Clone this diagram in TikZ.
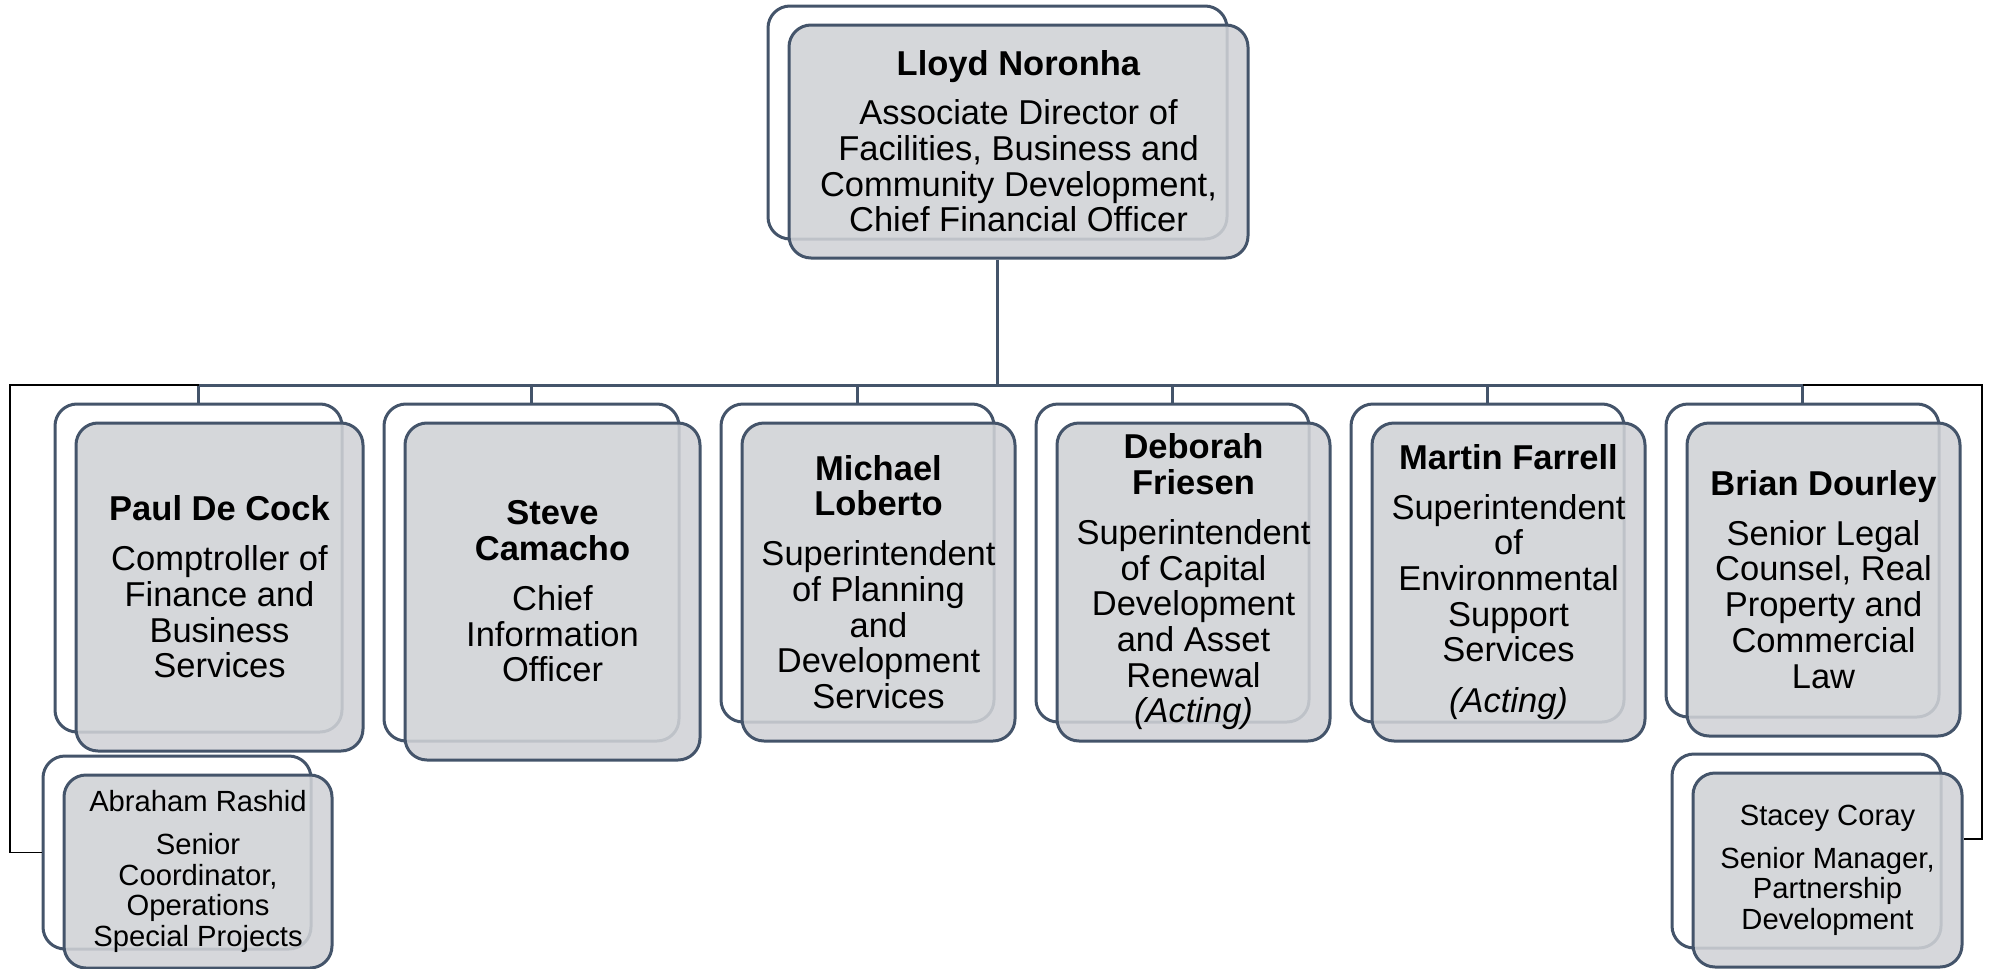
\documentclass[tikz,border=0pt]{standalone}
\usepackage{fontspec}
\setmainfont{Liberation Sans}
\definecolor{slate}{RGB}{68,84,106}
\definecolor{boxgray}{RGB}{208,210,214}
\tikzset{
    cardback/.style={draw=slate, fill=white, line width=1.5pt, rounded corners=11pt, inner sep=0pt},
    card/.style={draw=slate, fill=boxgray, fill opacity=0.88, text opacity=1, line width=1.5pt,
        rounded corners=11pt, inner sep=0pt, align=center,
        font=\fontsize{17.25}{17.85}\selectfont},
    smallcard/.style={card, font=\fontsize{14.6}{15.25}\selectfont},
    link/.style={draw=slate, line width=1.5pt},
    sidelink/.style={draw=black, line width=0.9pt}
}
\begin{document}
\begin{tikzpicture}[
    x=0.5pt, y=-0.5pt
]
    \useasboundingbox (0,0) rectangle (1992,969);

    % Rails
    \coordinate (bus) at (0,385);
    \coordinate (leftrail) at (10,385);
    \coordinate (rightrail) at (1982,385);

    % Back cards
    \node[cardback, minimum width=229.5pt, minimum height=116.5pt] (topback) at (997.5,122.5) {};
    \node[cardback, minimum width=143.5pt, minimum height=164pt] (paulback) at (198.5,568) {};
    \node[cardback, minimum width=147.5pt, minimum height=168.5pt] (steveback) at (531.5,572.5) {};
    \node[cardback, minimum width=136.5pt, minimum height=159pt] (michaelback) at (857.5,563) {};
    \node[cardback, minimum width=136.5pt, minimum height=159pt] (deborahback) at (1172.5,563) {};
    \node[cardback, minimum width=136.5pt, minimum height=159pt] (martinback) at (1487.5,563) {};
    \node[cardback, minimum width=136.5pt, minimum height=156.5pt] (brianback) at (1802.5,560.5) {};
    \node[cardback, minimum width=134pt, minimum height=96.5pt] (abrahamback) at (177,852.5) {};
    \node[cardback, minimum width=134.5pt, minimum height=97pt] (staceyback) at (1806.5,851) {};

    % Front cards
    \node[card, minimum width=229.5pt, minimum height=116.5pt] (top) at (1018.5,141.5)
        {\textbf{Lloyd Noronha}\\[6.5pt] Associate Director of\\ Facilities, Business and\\ Community Development,\\ Chief Financial Officer};
    \node[card, minimum width=143.5pt, minimum height=164pt] (paul) at (219.5,587)
        {\textbf{Paul De Cock}\\[7pt] Comptroller of\\ Finance and\\ Business\\ Services};
    \node[card, minimum width=147.5pt, minimum height=168.5pt] (steve) at (552.5,591.5)
        {\textbf{Steve}\\ \textbf{Camacho}\\[7pt] Chief\\ Information\\ Officer};
    \node[card, minimum width=136.5pt, minimum height=159pt] (michael) at (878.5,582)
        {\textbf{Michael}\\ \textbf{Loberto}\\[7pt] Superintendent\\ of Planning\\ and\\ Development\\ Services};
    \node[card, minimum width=136.5pt, minimum height=159pt] (deborah) at (1193.5,582)
        {\textbf{Deborah}\\ \textbf{Friesen}\\[7pt] Superintendent\\ of Capital\\ Development\\ and Asset\\ Renewal\\ \textit{(Acting)}};
    \node[card, minimum width=136.5pt, minimum height=159pt] (martin) at (1508.5,582)
        {\textbf{Martin Farrell}\\[7pt] Superintendent\\ of\\ Environmental\\ Support\\ Services\\[7.5pt] \textit{(Acting)}};
    \node[card, minimum width=136.5pt, minimum height=156.5pt] (brian) at (1823.5,579.5)
        {\textbf{Brian Dourley}\\[7pt] Senior Legal\\ Counsel, Real\\ Property and\\ Commercial\\ Law};
    \node[smallcard, minimum width=134pt, minimum height=96.5pt] (abraham) at (198,871.5)
        {Abraham Rashid\\[6.4pt] Senior\\ Coordinator,\\ Operations\\ Special Projects};
    \node[smallcard, minimum width=134.5pt, minimum height=97pt] (stacey) at (1827.5,870)
        {Stacey Coray\\[6.4pt] Senior Manager,\\ Partnership\\ Development};

    % Connectors
    \draw[link] (topback.south |- top.south) -- (topback.south |- bus);
    \draw[link] (paulback.north |- bus) -- (brianback.north |- bus);
    \foreach \n in {paulback, steveback, michaelback, deborahback, martinback, brianback} {
        \draw[link] (\n.north |- bus) -- (\n.north);
    }

    % Side reports
    \draw[sidelink] (paulback.north |- bus) -- (leftrail) |- (abrahamback.west);
    \draw[sidelink] (brianback.north |- bus) -- (rightrail) |- ([yshift=15.5pt]stacey.east);
\end{tikzpicture}
\end{document}
